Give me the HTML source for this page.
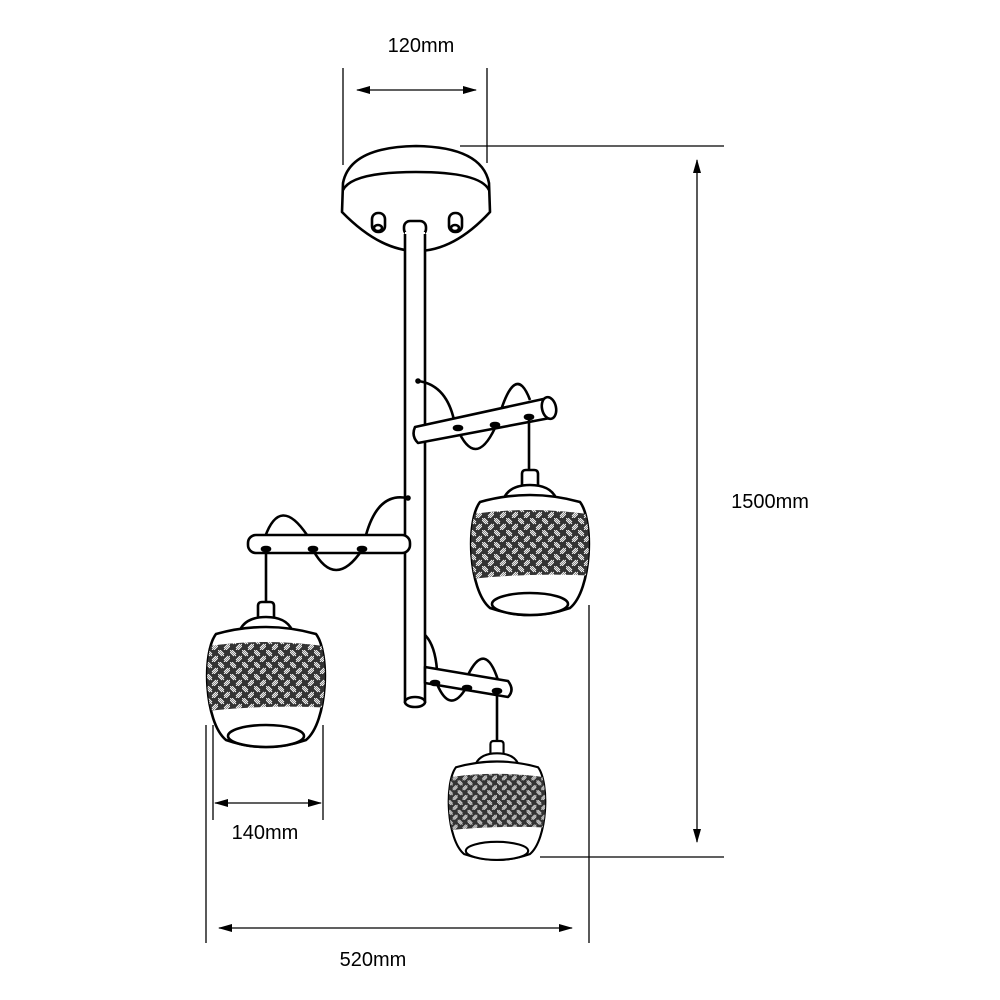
<!DOCTYPE html>
<html><head><meta charset="utf-8"><style>
html,body{margin:0;padding:0;background:#fff}
svg{display:block}
text{font-family:"Liberation Sans",Arial,sans-serif;font-size:20px;fill:#000}
</style></head><body>
<svg width="1000" height="1000" viewBox="0 0 1000 1000" xmlns="http://www.w3.org/2000/svg">
<defs>
<marker id="ar" markerWidth="14" markerHeight="10" refX="13" refY="5" orient="auto-start-reverse" markerUnits="userSpaceOnUse">
<path d="M0,1 L14,5 L0,9 Z" fill="#000"/></marker>
<pattern id="h1" width="12" height="12" patternUnits="userSpaceOnUse">
<rect width="12" height="12" fill="#333"/>
<path d="M0,0 L6,6 M2,0 L6,4 M0,2 L4,6" stroke="#fff" stroke-width="0.9"/>
<path d="M12,0 L6,6 M10,0 L6,4 M12,2 L8,6" stroke="#fff" stroke-width="0.9" transform="translate(0,6)"/>
</pattern>
<clipPath id="bc"><path d="M-50,32 Q0,18 50,32 C64,50 62,120 40,138 Q0,152 -40,138 C-62,120 -64,50 -50,32 Z"/></clipPath>
<g id="shade" fill="#fff" stroke="#000" stroke-width="2.6">
<path d="M-8,15 L-8,4 Q-8,0 -4,0 L4,0 Q8,0 8,4 L8,15"/>
<path d="M-26,28 Q-20,15 0,15 Q20,15 26,28 Z"/>
<path d="M-50,32 Q0,18 50,32 C64,50 62,120 40,138 Q0,152 -40,138 C-62,120 -64,50 -50,32 Z"/>
<g clip-path="url(#bc)"><path d="M-70,46 Q0,34 70,46 L70,106 Q0,102 -70,110 Z" fill="url(#h1)" stroke="none"/></g>
<ellipse cx="0" cy="134" rx="38" ry="11"/>
</g>
</defs>
<g fill="none" stroke="#000" stroke-width="1.3">
<line x1="343" y1="68" x2="343" y2="165"/><line x1="487" y1="68" x2="487" y2="163"/>
<line x1="357" y1="90" x2="476" y2="90" marker-start="url(#ar)" marker-end="url(#ar)"/>
<line x1="460" y1="146" x2="724" y2="146"/>
<line x1="697" y1="160" x2="697" y2="842" marker-start="url(#ar)" marker-end="url(#ar)"/>
<line x1="540" y1="857" x2="724" y2="857"/>
<line x1="213" y1="725" x2="213" y2="820"/><line x1="323" y1="725" x2="323" y2="820"/>
<line x1="215" y1="803" x2="321" y2="803" marker-start="url(#ar)" marker-end="url(#ar)"/>
<line x1="206" y1="725" x2="206" y2="943"/><line x1="589" y1="605" x2="589" y2="943"/>
<line x1="219" y1="928" x2="572" y2="928" marker-start="url(#ar)" marker-end="url(#ar)"/>
</g>
<text x="421" y="52" text-anchor="middle">120mm</text>
<text x="770" y="508" text-anchor="middle">1500mm</text>
<text x="265" y="839" text-anchor="middle">140mm</text>
<text x="373" y="966" text-anchor="middle">520mm</text>

<g fill="#fff" stroke="#000" stroke-width="2.6" stroke-linejoin="round">
<!-- canopy -->
<path d="M343,183 Q350,147 416,146 Q482,147 489,183 L490,212 Q418,290 342,212 Z"/>
<path d="M343,190 Q352,172 416,172 Q480,172 489,190" fill="none"/>
<rect x="372" y="213" width="13" height="19" rx="6"/><ellipse cx="378" cy="228" rx="4" ry="3"/>
<rect x="449" y="213" width="13" height="19" rx="6"/><ellipse cx="455" cy="228" rx="4" ry="3"/>
<rect x="404" y="221" width="22" height="14" rx="6"/>
<!-- main rod -->
<rect x="405" y="232" width="20" height="471" stroke="none"/>
<line x1="405" y1="234" x2="405" y2="703"/><line x1="425" y1="234" x2="425" y2="703"/>
<ellipse cx="415" cy="702" rx="10" ry="5"/>
<!-- arm1 wires -->
<path d="M418,381 Q448,385 455,425" fill="none"/>
<path d="M498,420 Q515,360 530,400" fill="none"/>
<path d="M457,428 Q475,470 495,428" fill="none"/>
<path d="M415,427 L548,398 L550,418 L418,443 Q411,436 415,427 Z"/>
<ellipse cx="549" cy="408" rx="7" ry="11" transform="rotate(-12 549 408)"/>
<circle cx="418" cy="381" r="1.5"/>
<!-- arm2 wires -->
<path d="M265,537 Q280,495 307,535" fill="none"/>
<path d="M366,535 Q378,492 407,498" fill="none"/>
<path d="M313,550 Q335,590 362,550" fill="none"/>
<rect x="248" y="535" width="162" height="18" rx="8"/>
<circle cx="408" cy="498" r="1.5"/>
<!-- arm3 wires -->
<path d="M425,635 Q435,645 437,670" fill="none"/>
<path d="M468,675 Q485,640 498,680" fill="none"/>
<path d="M437,684 Q450,715 466,688" fill="none"/>
<path d="M425,667 L508,681 Q515,690 508,697 L425,683 Z"/>
</g>
<g stroke="#000" stroke-width="2.6" fill="#000">
<line x1="529" y1="417" x2="529" y2="470"/><ellipse cx="529" cy="417" rx="4" ry="2"/>
<ellipse cx="458" cy="428" rx="4" ry="2"/><ellipse cx="495" cy="425" rx="4" ry="2"/>
<line x1="266" y1="549" x2="266" y2="602"/><ellipse cx="266" cy="549" rx="4" ry="2"/>
<ellipse cx="313" cy="549" rx="4" ry="2"/><ellipse cx="362" cy="549" rx="4" ry="2"/>
<line x1="497" y1="691" x2="497" y2="742"/><ellipse cx="497" cy="691" rx="4" ry="2"/>
<ellipse cx="435" cy="683" rx="4" ry="2"/><ellipse cx="467" cy="688" rx="4" ry="2"/>
</g>
<use href="#shade" transform="translate(266,602)"/>
<use href="#shade" transform="translate(530,470)"/>
<use href="#shade" transform="translate(497,741) scale(0.82)"/>
</svg>
</body></html>
